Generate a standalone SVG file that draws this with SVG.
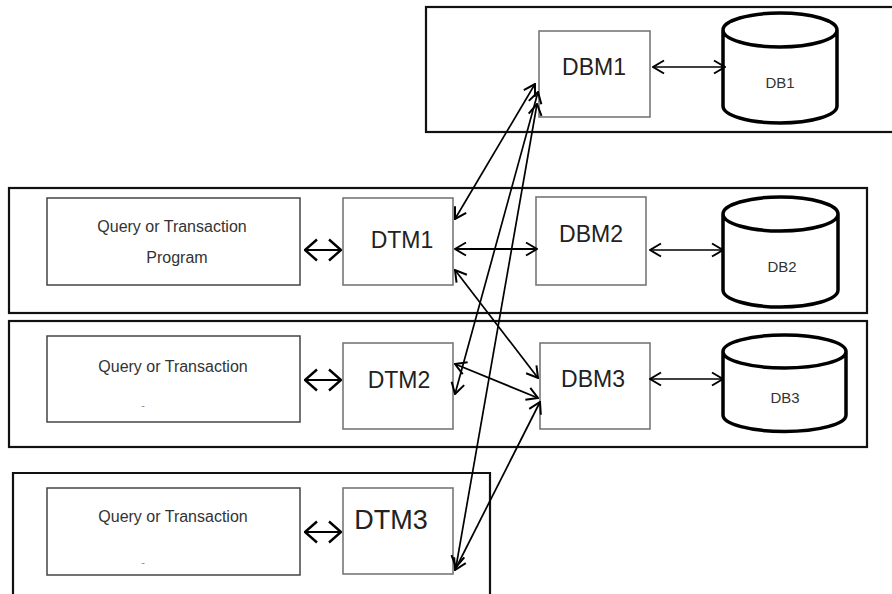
<svg xmlns="http://www.w3.org/2000/svg" width="892" height="594" viewBox="0 0 892 594">
<defs>
<marker id="ah" viewBox="0 0 13 16" refX="12" refY="8" markerWidth="13" markerHeight="16" markerUnits="userSpaceOnUse" orient="auto-start-reverse">
<path d="M1,1.5 L12,8 L1,14.5" fill="none" stroke="#000" stroke-width="2"/>
</marker>
<marker id="ahb" viewBox="0 0 14 24" refX="13" refY="12" markerWidth="14" markerHeight="24" markerUnits="userSpaceOnUse" orient="auto-start-reverse">
<path d="M1,1.5 L13,12 L1,22.5" fill="none" stroke="#000" stroke-width="2.4"/>
</marker>
</defs>
<style>
.cont{fill:none;stroke:#111;stroke-width:2.2}
.box{fill:#fff;stroke:#777;stroke-width:1.6}
.qbox{fill:#fff;stroke:#444;stroke-width:1.5}
.cyl{fill:#fff;stroke:#000;stroke-width:3.5}
.big{font-family:"Liberation Sans",Arial,sans-serif;font-size:23px;fill:#222;text-anchor:middle}
.q{font-family:"Liberation Sans",Arial,sans-serif;font-size:16px;fill:#333;text-anchor:middle}
.db{font-family:"Liberation Sans",Arial,sans-serif;font-size:15px;fill:#333;text-anchor:middle}
.dash{font-family:"Liberation Sans",Arial,sans-serif;font-size:11px;fill:#888;text-anchor:middle}
.c{fill:none;stroke:#000;stroke-width:1.7}
.cb{fill:none;stroke:#000;stroke-width:2.2}
</style>
<rect fill="#fff" width="892" height="594"/>
<g id="site1">
<rect class="cont" x="426" y="7" width="470" height="125"/>
</g>
<g id="site2">
<rect class="cont" x="9" y="188" width="858" height="125"/>
</g>
<g id="site3">
<rect class="cont" x="9" y="321" width="858" height="126"/>
</g>
<g id="site4">
<path class="cont" d="M13,600 L13,473 L490,473 L490,600"/>
</g>
<g id="dbm1">
<rect class="box" x="539" y="31" width="111" height="86"/>
<text class="big" x="594" y="75">DBM1</text>
</g>
<g id="db1">
<path class="cyl" d="M723,30 A57,17 0 0 1 837,30 A57,17 0 0 1 723,30 Z M723,30 L723,106 A57,17 0 0 0 837,106 L837,30"/>
<text class="db" x="780" y="88">DB1</text>
</g>
<g id="qtp1">
<rect class="qbox" x="47" y="198" width="253" height="87"/>
<text class="q" x="172" y="232">Query or Transaction</text>
<text class="q" x="177" y="263">Program</text>
</g>
<g id="dtm1">
<rect class="box" x="343" y="198" width="110" height="87"/>
<text class="big" x="402" y="248">DTM1</text>
</g>
<g id="dbm2">
<rect class="box" x="536" y="197" width="110" height="88"/>
<text class="big" x="591" y="242">DBM2</text>
</g>
<g id="db2">
<path class="cyl" d="M723,214 A57.5,17 0 0 1 838,214 A57.5,17 0 0 1 723,214 Z M723,214 L723,290 A57.5,17 0 0 0 838,290 L838,214"/>
<text class="db" x="782" y="272">DB2</text>
</g>
<g id="qtp2">
<rect class="qbox" x="47" y="336" width="253" height="86"/>
<text class="q" x="173" y="372">Query or Transaction</text>
<text class="dash" x="143" y="409">-</text>
</g>
<g id="dtm2">
<rect class="box" x="343" y="343" width="110" height="86"/>
<text class="big" x="399" y="388">DTM2</text>
</g>
<g id="dbm3">
<rect class="box" x="540" y="343" width="110" height="86"/>
<text class="big" x="593" y="387">DBM3</text>
</g>
<g id="db3">
<path class="cyl" d="M723,351.5 A61.5,16.5 0 0 1 846,351.5 A61.5,16.5 0 0 1 723,351.5 Z M723,351.5 L723,415 A61.5,16.5 0 0 0 846,415 L846,351.5"/>
<text class="db" x="785" y="403">DB3</text>
</g>
<g id="qtp3">
<rect class="qbox" x="47" y="488" width="253" height="87"/>
<text class="q" x="173" y="522">Query or Transaction</text>
<text class="dash" x="143" y="566">-</text>
</g>
<g id="dtm3">
<rect class="box" x="343" y="488" width="110" height="86"/>
<text class="big" x="391" y="529" style="font-size:27px">DTM3</text>
</g>
<g id="connectors">
<line class="c" x1="653" y1="67" x2="725" y2="67" marker-start="url(#ah)" marker-end="url(#ah)"/>
<line class="cb" x1="305" y1="250" x2="341" y2="250" marker-start="url(#ahb)" marker-end="url(#ahb)"/>
<line class="cb" x1="455" y1="249" x2="537" y2="249" marker-start="url(#ah)" marker-end="url(#ah)"/>
<line class="c" x1="650" y1="250" x2="723" y2="250" marker-start="url(#ah)" marker-end="url(#ah)"/>
<line class="cb" x1="305" y1="380" x2="341" y2="380" marker-start="url(#ahb)" marker-end="url(#ahb)"/>
<line class="c" x1="650" y1="379" x2="723" y2="379" marker-start="url(#ah)" marker-end="url(#ah)"/>
<line class="cb" x1="305" y1="532" x2="341" y2="532" marker-start="url(#ahb)" marker-end="url(#ahb)"/>
<line class="c" x1="535" y1="84" x2="455" y2="219" marker-start="url(#ah)" marker-end="url(#ah)"/>
<line class="c" x1="538" y1="92" x2="455" y2="394" marker-start="url(#ah)" marker-end="url(#ah)"/>
<line class="c" x1="537" y1="104" x2="456" y2="567" marker-start="url(#ah)" marker-end="url(#ah)"/>
<line class="c" x1="455" y1="270" x2="538" y2="378" marker-start="url(#ah)" marker-end="url(#ah)"/>
<line class="c" x1="455" y1="364" x2="538" y2="398" marker-start="url(#ah)" marker-end="url(#ah)"/>
<line class="c" x1="455" y1="570" x2="540" y2="402" marker-start="url(#ah)" marker-end="url(#ah)"/>
</g>
</svg>
